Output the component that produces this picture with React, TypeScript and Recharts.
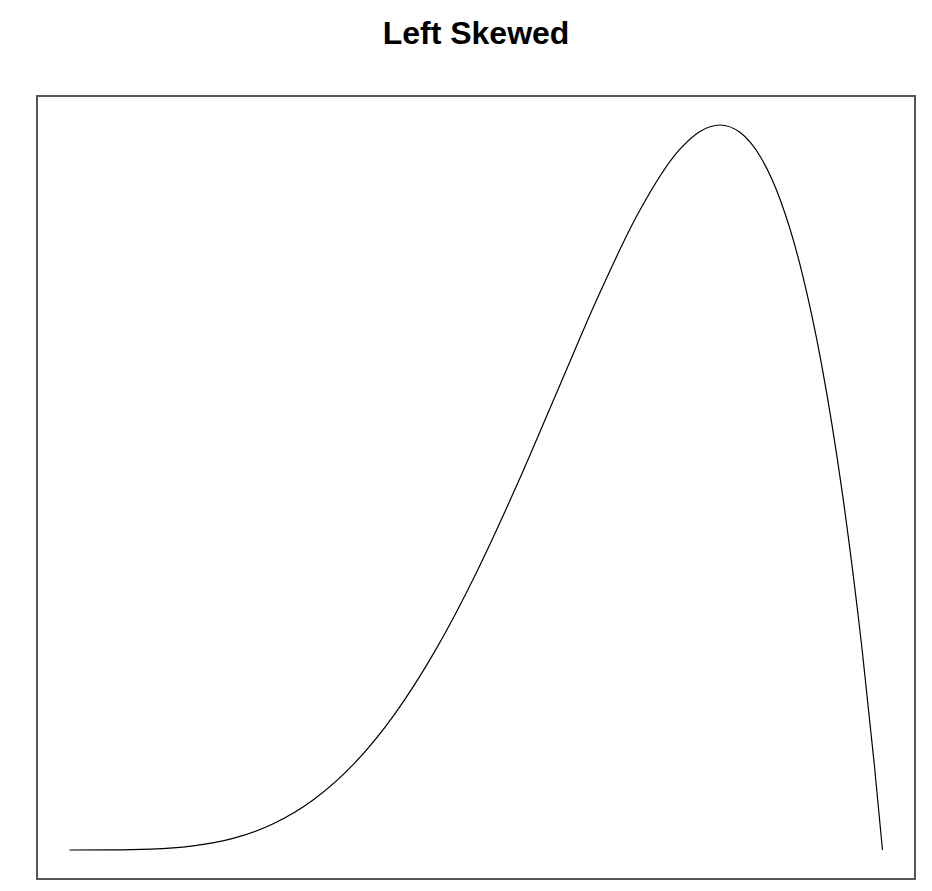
import { LineChart, Line, XAxis, YAxis, ReferenceArea } from 'recharts';

// density (x on 0..1, height relative to the curve)
const xs = [
  0, 0.05, 0.1, 0.15, 0.2, 0.25, 0.3, 0.35, 0.4, 0.45, 0.5, 0.55, 0.6, 0.65,
  0.7, 0.75, 0.775, 0.8, 0.825, 0.85, 0.875, 0.9, 0.925, 0.95, 0.975, 0.99, 1,
];
const density = [
  0, 0.0002, 0.0027, 0.0129, 0.0384, 0.0879, 0.1701, 0.2926, 0.4608, 0.6766,
  0.9375, 1.2353, 1.5552, 1.8743, 2.1609, 2.373, 2.4351, 2.4576, 2.4321, 2.349,
  2.1982, 1.9683, 1.6472, 1.2218, 0.6778, 0.2882, 0,
];

const data = xs.map((x, i) => ({ x, y: density[i] }));

const xDomain: [number, number] = [-0.04, 1.04];
const yDomain: [number, number] = [-0.0983, 2.5559];

export default function App() {
  return (
    <div style={{ position: 'absolute', left: 0, top: 0, width: 932, height: 891, background: '#fff' }}>
      <div
        style={{
          position: 'absolute',
          left: 0,
          width: 952,
          top: 15,
          textAlign: 'center',
          fontFamily: '"Liberation Sans", Arial, sans-serif',
          fontWeight: 'bold',
          fontSize: 32,
          lineHeight: 'normal',
          color: '#000',
        }}
      >
        Left Skewed
      </div>
      <LineChart
        width={932}
        height={891}
        data={data}
        margin={{ top: 96, left: 37, right: 17, bottom: 12 }}
      >
        <XAxis type="number" dataKey="x" domain={xDomain} hide />
        <YAxis type="number" domain={yDomain} hide />
        <ReferenceArea
          x1={xDomain[0]}
          x2={xDomain[1]}
          y1={yDomain[0]}
          y2={yDomain[1]}
          fill="none"
          stroke="#555"
          strokeWidth={2}
          fillOpacity={0}
        />
        <Line
          type="monotone"
          dataKey="y"
          stroke="#000"
          strokeWidth={1.2}
          dot={false}
          isAnimationActive={false}
        />
      </LineChart>
    </div>
  );
}
